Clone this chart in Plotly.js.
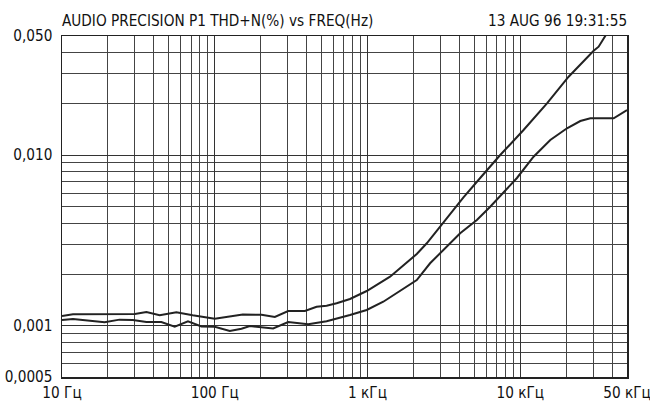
<!DOCTYPE html>
<html>
<head>
<meta charset="utf-8">
<script src="https://cdn.plot.ly/plotly-3.0.1.min.js"></script>
<style>html,body{margin:0;padding:0;background:#fff;}#chart{width:650px;height:402px;}</style>
</head>
<body>
<div id="chart"></div>
<script>
// Upper curve (Hz, %)
const freqA = [10, 11.8, 30, 35.7, 43.6, 56.1, 71.7, 100, 152.6, 202.4, 247.4, 302.5, 389, 464.5, 540, 628, 768, 988, 1405, 2102, 2444, 3141, 4249, 5467, 7393, 10510, 14965, 20737, 30245, 32613, 34330, 36090, 37500];
const thdA  = [0.00114, 0.001166, 0.00117, 0.001203, 0.00115, 0.001198, 0.00115, 0.001099, 0.001161, 0.00116, 0.001124, 0.001219, 0.00122, 0.001292, 0.00131, 0.001353, 0.001434, 0.001597, 0.001938, 0.002633, 0.003042, 0.004018, 0.005662, 0.007348, 0.01002, 0.01405, 0.02015, 0.02886, 0.041, 0.04327, 0.04629, 0.05, 0.053];
// Lower curve (Hz, %)
const freqB = [10, 11.8, 19, 23.8, 29.1, 35.7, 44.7, 54.7, 66.8, 81.8, 100, 125.4, 149.7, 169.7, 241.2, 302.5, 409, 540, 768, 988, 1269, 1634, 2102, 2569, 4043, 5201, 6359, 9515, 12224, 15731, 20240, 24738, 28774, 40905, 50000];
const thdB  = [0.00108, 0.001094, 0.001046, 0.001085, 0.00108, 0.001051, 0.001051, 0.000986, 0.001061, 0.00099, 0.000986, 0.000931, 0.00096, 0.000996, 0.000963, 0.001051, 0.001019, 0.001061, 0.001155, 0.001236, 0.001382, 0.001597, 0.001853, 0.002322, 0.003481, 0.004166, 0.004985, 0.007348, 0.009797, 0.01227, 0.01438, 0.01586, 0.01646, 0.01646, 0.01841];

const xTickVals = [10, 100, 1000, 10000, 50000];
const xTickText = ['10 Гц', '100 Гц', '1 кГц', '10 кГц', '50 кГц'];
const yTickVals = [0.0005, 0.001, 0.01, 0.05];
const yTickText = ['0,0005', '0,001', '0,010', '0,050'];
const xMinorGrid = [20,30,40,50,60,70,80,90,200,300,400,500,600,700,800,900,2000,3000,4000,5000,6000,7000,8000,9000,20000,30000,40000];
const yMinorGrid = [0.0006,0.0007,0.0008,0.0009,0.002,0.003,0.004,0.005,0.006,0.007,0.008,0.009,0.02,0.03,0.04];

const titleText = 'AUDIO PRECISION P1 THD+N(%) vs FREQ(Hz)';
const stampText = '13 AUG 96 19:31:55';

const FONT = '"DejaVu Sans Condensed", "Liberation Sans Narrow", sans-serif';
const FS = 15.2;
const lineStyle = {color: '#222', width: 2};

const traces = [
  {x: freqA, y: thdA, type: 'scatter', mode: 'lines', line: lineStyle, hoverinfo: 'skip'},
  {x: freqB, y: thdB, type: 'scatter', mode: 'lines', line: lineStyle, hoverinfo: 'skip'}
];

const layout = {
  width: 650, height: 402,
  margin: {l: 62, r: 23, t: 36, b: 25, pad: 0},
  paper_bgcolor: '#fff', plot_bgcolor: '#fff',
  showlegend: false,
  font: {family: FONT, size: FS, color: '#111'},
  xaxis: {
    type: 'log', range: [1 - 1e-6, Math.log10(50000) + 1e-6],
    tickmode: 'array', tickvals: xTickVals, ticktext: xTickText,
    ticks: '', showgrid: true, gridcolor: '#333', gridwidth: 1,
    minor: {tickmode: 'array', tickvals: xMinorGrid, showgrid: true, gridcolor: '#444', gridwidth: 1, ticks: ''},
    showline: true, mirror: true, linecolor: '#222', linewidth: 1.5,
    zeroline: false, ticklabelstandoff: 1, ticklabeloverflow: 'allow',
    tickfont: {family: FONT, size: FS, color: '#111'}
  },
  yaxis: {
    type: 'log', range: [Math.log10(0.0005) - 1e-6, Math.log10(0.05) + 1e-6],
    tickmode: 'array', tickvals: yTickVals, ticktext: yTickText,
    ticks: '', showgrid: true, gridcolor: '#333', gridwidth: 1,
    minor: {tickmode: 'array', tickvals: yMinorGrid, showgrid: true, gridcolor: '#444', gridwidth: 1, ticks: ''},
    showline: true, mirror: true, linecolor: '#222', linewidth: 1.5,
    zeroline: false, ticklabelstandoff: 5, ticklabeloverflow: 'allow',
    tickfont: {family: FONT, size: FS, color: '#111'}
  },
  annotations: [
    {text: titleText, xref: 'paper', yref: 'paper', x: 0, y: 1, xanchor: 'left', yanchor: 'bottom', yshift: 4, xshift: -2, showarrow: false, font: {family: FONT, size: FS, color: '#111'}},
    {text: stampText, xref: 'paper', yref: 'paper', x: 1, y: 1, xanchor: 'right', yanchor: 'bottom', yshift: 4, xshift: 2, showarrow: false, font: {family: FONT, size: FS, color: '#111'}}
  ]
};

Plotly.newPlot('chart', traces, layout, {staticPlot: true, displayModeBar: false});
</script>
</body>
</html>
